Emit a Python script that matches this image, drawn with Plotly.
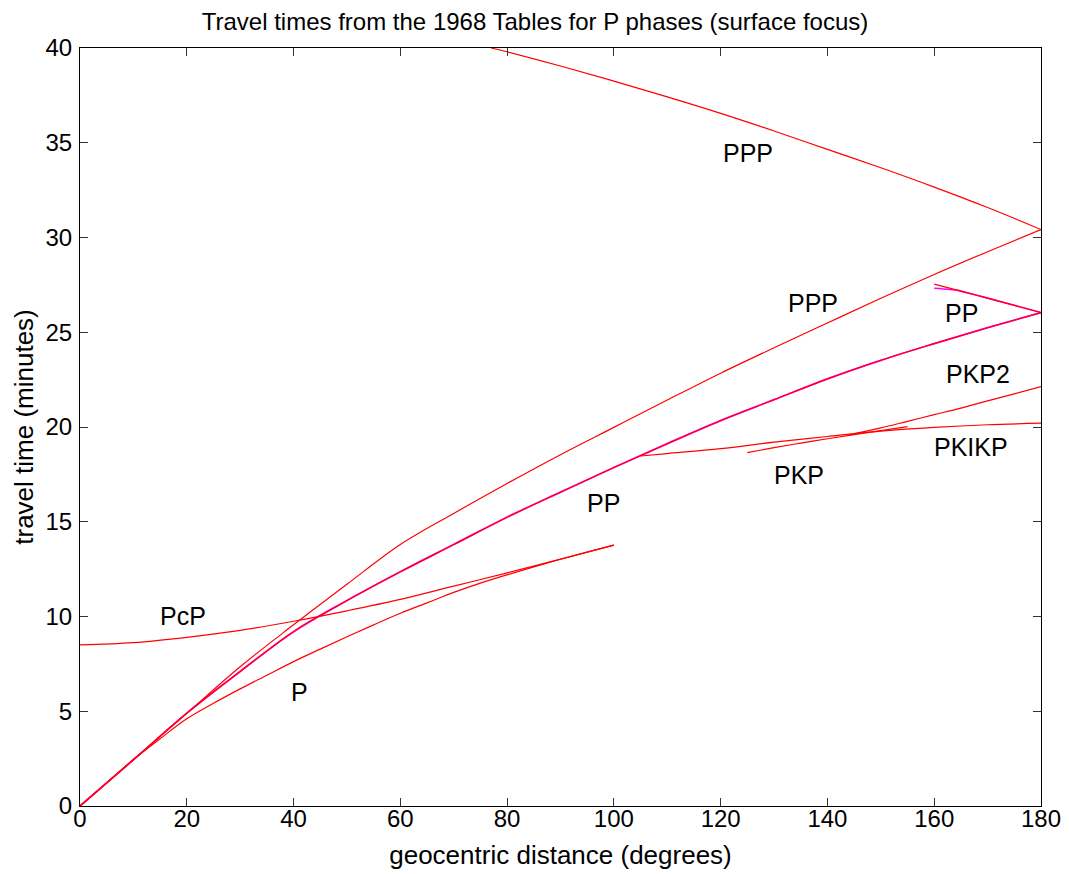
import plotly.graph_objects as go

# ---- data ----
p_deg = [0, 5, 10, 15, 20, 25, 30, 35, 40, 45, 50, 55, 60, 65, 70, 75, 80, 85, 90, 95, 100]
p_time = [0, 1.22, 2.45, 3.55, 4.6, 5.42, 6.18, 6.9, 7.62, 8.28, 8.93, 9.56, 10.17, 10.72,
          11.27, 11.76, 12.2, 12.62, 13.02, 13.4, 13.77]

pcp_deg = [0, 10, 20, 30, 40, 50, 60, 70, 80, 90, 100]
pcp_time = [8.5, 8.62, 8.9, 9.27, 9.75, 10.3, 10.9, 11.6, 12.3, 13.03, 13.77]

pp_deg = [0, 10, 20, 30, 40, 50, 60, 70, 80, 90, 100, 110, 120, 130, 140, 150, 160, 170, 180]
pp_time = [0, 2.44, 4.9, 7.1, 9.2, 10.84, 12.36, 13.8, 15.24, 16.56, 17.86, 19.12, 20.34,
           21.44, 22.54, 23.52, 24.4, 25.24, 26.04]

pp_rev_deg = [160, 165, 170, 175, 180]
pp_rev_time = [27.54, 27.17, 26.8, 26.42, 26.04]

pp_mag_rev_deg = [160, 164.5, 165, 170, 175, 180]
pp_mag_rev_time = [27.32, 27.21, 27.17, 26.8, 26.42, 26.04]

ppp_deg = [0, 10, 20, 30, 40, 50, 60, 70, 80, 90, 100, 110, 120, 130, 140, 150, 160, 170, 180]
ppp_time = [0, 2.44, 4.89, 7.35, 9.56, 11.7, 13.8, 15.44, 17.02, 18.54, 19.98, 21.42, 22.84,
            24.18, 25.49, 26.79, 28.05, 29.25, 30.42]

ppp_rev_deg = [77, 80, 90, 100, 110, 120, 130, 140, 150, 160, 170, 180]
ppp_rev_time = [40.0, 39.8, 39.05, 38.25, 37.42, 36.55, 35.62, 34.65, 33.68, 32.66, 31.58, 30.42]

pkikp_deg = [105, 110, 120, 130, 140, 150, 160, 170, 180]
pkikp_time = [18.47, 18.6, 18.86, 19.2, 19.5, 19.78, 19.98, 20.12, 20.2]

pkp_bc_deg = [125, 130, 135, 140, 145, 150, 155]
pkp_bc_time = [18.65, 18.91, 19.15, 19.38, 19.6, 19.81, 20.02]

pkp_ab_deg = [144, 150, 155, 160, 165, 170, 175, 180]
pkp_ab_time = [19.58, 19.95, 20.3, 20.65, 21.0, 21.38, 21.75, 22.13]

label_text = ["PPP", "PPP", "PP", "PKP2", "PKIKP", "PKP", "PP", "PcP", "P"]
label_deg = [125.1, 137.3, 165.2, 168.2, 166.9, 134.7, 98.1, 19.3, 41.2]
label_time = [34.46, 26.54, 26.0, 22.8, 18.94, 17.47, 16.0, 10.03, 6.02]

x_ticks = [0, 20, 40, 60, 80, 100, 120, 140, 160, 180]
y_ticks = [0, 5, 10, 15, 20, 25, 30, 35, 40]

FONT = "Liberation Sans, Arial"

# ---- figure ----
fig = go.Figure()

def add_line(x, y, color="#ff0000", width=1.2):
    fig.add_trace(go.Scatter(x=x, y=y, mode="lines", line=dict(color=color, width=width),
                             line_shape="spline", hoverinfo="skip", showlegend=False))

# magenta duplicates beneath red PP
add_line(pp_deg, pp_time, color="#ff00ff", width=1.8)
add_line(pp_mag_rev_deg, pp_mag_rev_time, color="#ff00ff", width=1.6)

add_line(p_deg, p_time)
add_line(pcp_deg, pcp_time)
add_line(pp_deg, pp_time)
add_line(pp_rev_deg, pp_rev_time)
add_line(ppp_deg, ppp_time)
add_line(ppp_rev_deg, ppp_rev_time)
add_line(pkikp_deg, pkikp_time)
add_line(pkp_bc_deg, pkp_bc_time)
add_line(pkp_ab_deg, pkp_ab_time)

for t, x, y in zip(label_text, label_deg, label_time):
    fig.add_annotation(x=x, y=y, text=t, showarrow=False,
                       font=dict(size=25, color="black", family=FONT))

axis_common = dict(showgrid=False, zeroline=False, showline=True, linecolor="black",
                   linewidth=1, mirror="ticks", ticks="inside", ticklen=8,
                   tickcolor="#333333", tickwidth=1)

fig.update_xaxes(range=[0, 180], tickvals=x_ticks, **axis_common,
                 tickfont=dict(size=24, color="black", family=FONT),
                 ticklabelstandoff=-9,
                 title=dict(text="geocentric distance (degrees)", standoff=15,
                            font=dict(size=26, color="black", family=FONT)))
fig.update_yaxes(range=[0, 40], tickvals=y_ticks, **axis_common,
                 tickfont=dict(size=24, color="black", family=FONT),
                 ticklabelstandoff=2,
                 title=dict(text="travel time (minutes)", standoff=4,
                            font=dict(size=26, color="black", family=FONT)))

fig.update_layout(
    width=1061, height=866,
    margin=dict(l=72, r=28, t=40, b=68, autoexpand=False),
    paper_bgcolor="white", plot_bgcolor="white",
    title=dict(text="Travel times from the 1968 Tables for P phases (surface focus)",
               x=0.4967, xanchor="center", y=1, yanchor="top", pad=dict(t=5),
               font=dict(size=24, color="black", family=FONT)),
)

fig.write_html("out.html")
